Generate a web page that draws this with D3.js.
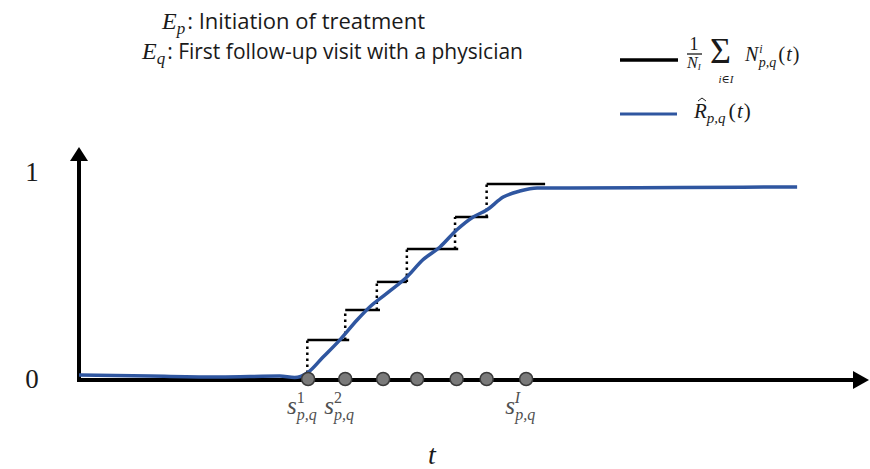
<html>
<head>
<title>step-estimate</title>
<script src="https://d3js.org/d3.v7.min.js"></script>
<style>
  body { margin: 0; background: #fff; }
  svg text { fill: #1a1a1a; }
  .math { font-family: "Liberation Serif", "DejaVu Serif", serif; font-style: italic; }
  .sans { font-family: "Open Sans", "Noto Sans", sans-serif; }
</style>
</head>
<body>
<script>
// event times on the t axis (s^1 ... s^I)
const eventTimes = [29.0, 33.7, 38.5, 42.8, 47.8, 51.6, 56.6];
// empirical step function: start, end and level of each step
const stepStart = [28.9, 33.7, 37.7, 41.5, 47.6, 51.6];
const stepEnd = [34.2, 38.1, 41.5, 48.0, 51.8, 59.0];
const stepLevel = [0.188, 0.333, 0.469, 0.628, 0.783, 0.942];
// smooth estimate R_hat(t)
const curveT = [0, 9.0, 17.8, 25.4, 27.3, 28.9, 30.9, 33.0, 35.2, 36.8, 39.0, 41.5, 43.5, 45.7, 47.8, 49.9, 51.6, 53.7, 55.8, 58.0, 62.2, 76.1, 90.9];
const curveR = [0.019, 0.014, 0.010, 0.014, 0.007, 0.029, 0.106, 0.188, 0.285, 0.348, 0.415, 0.493, 0.575, 0.638, 0.720, 0.783, 0.816, 0.879, 0.908, 0.923, 0.923, 0.925, 0.928];
const yTicks = [0, 1];
const sLabels = [{i: 0, sup: "1"}, {i: 1, sup: "2"}, {i: 6, sup: "I"}];

const w = 870, h = 469;
const blue = "#2f56a0";

const svg = d3.select("body").append("svg")
  .attr("width", w).attr("height", h);

const x = d3.scaleLinear().domain([0, 100]).range([79, 869]);
const y = d3.scaleLinear().domain([0, 1]).range([379, 172]);

// axes with arrows
svg.append("line")
  .attr("x1", x(0)).attr("x2", x(100) - 12)
  .attr("y1", y(0) + 1).attr("y2", y(0) + 1)
  .attr("stroke", "#000").attr("stroke-width", 4);
svg.append("path")
  .attr("d", `M${x(100)},${y(0) + 1} L${x(100) - 16},${y(0) - 8} L${x(100) - 16},${y(0) + 10} Z`)
  .attr("fill", "#000");
svg.append("line")
  .attr("x1", x(0)).attr("x2", x(0))
  .attr("y1", y(0) + 3).attr("y2", 158)
  .attr("stroke", "#000").attr("stroke-width", 4);
svg.append("path")
  .attr("d", `M${x(0)},147 L${x(0) - 9},161 L${x(0) + 9},161 Z`)
  .attr("fill", "#000");

svg.selectAll(".ytick")
  .data(yTicks).enter().append("text")
  .attr("class", "ytick")
  .attr("x", 32).attr("y", d => y(d) + 9)
  .attr("text-anchor", "middle")
  .style("font-family", "'Liberation Serif', serif")
  .style("font-size", "27px")
  .text(d => d);

// dotted risers of the step function
svg.selectAll(".riser")
  .data(stepStart).enter().append("line")
  .attr("class", "riser")
  .attr("x1", d => x(d)).attr("x2", d => x(d))
  .attr("y1", (d, i) => y(i === 0 ? 0 : stepLevel[i - 1]))
  .attr("y2", (d, i) => y(stepLevel[i]))
  .attr("stroke", "#000").attr("stroke-width", 2.5)
  .attr("stroke-dasharray", "2.5,3.5");

// horizontal steps
svg.selectAll(".step")
  .data(stepStart).enter().append("line")
  .attr("class", "step")
  .attr("x1", d => x(d)).attr("x2", (d, i) => x(stepEnd[i]))
  .attr("y1", (d, i) => y(stepLevel[i])).attr("y2", (d, i) => y(stepLevel[i]))
  .attr("stroke", "#000").attr("stroke-width", 2.5);

// smooth curve
const line = d3.line()
  .x((d, i) => x(curveT[i]))
  .y(d => y(d))
  .curve(d3.curveMonotoneX);
svg.append("path")
  .datum(curveR)
  .attr("d", line)
  .attr("fill", "none")
  .attr("stroke", blue)
  .attr("stroke-width", 3.5);

// event dots
svg.selectAll(".ev")
  .data(eventTimes).enter().append("circle")
  .attr("class", "ev")
  .attr("cx", d => x(d)).attr("cy", y(0))
  .attr("r", 6.5)
  .attr("fill", "#7a7a7a")
  .attr("stroke", "#3a3a3a").attr("stroke-width", 1.5);

// s labels
const sl = svg.selectAll(".slab")
  .data(sLabels).enter().append("text")
  .attr("class", "slab math")
  .attr("x", d => x(eventTimes[d.i]) - 21)
  .attr("y", 414)
  .style("fill", "#505050");
sl.append("tspan").style("font-size", "25px").text("s");
sl.append("tspan").attr("dy", -11).style("font-size", "16px")
  .style("font-style", d => d.sup === "I" ? "italic" : "normal").text(d => d.sup);
sl.append("tspan").attr("dx", d => d.sup === "I" ? -5 : -8).attr("dy", 17).style("font-size", "16px").text("p,q");

svg.append("text")
  .attr("class", "math")
  .attr("x", 432).attr("y", 464)
  .attr("text-anchor", "middle")
  .style("font-size", "28px")
  .text("t");

// titles
function titleLine(x0, yb, sub, txt, size) {
  const t = svg.append("text").attr("x", x0).attr("y", yb);
  t.append("tspan").attr("class", "math").style("font-size", "24px").text("E");
  t.append("tspan").attr("class", "math").attr("dy", 5).style("font-size", "17px").text(sub);
  t.append("tspan").attr("class", "sans").attr("dx", 2).attr("dy", -5).style("font-size", size + "px").text(": " + txt);
}
titleLine(162, 29, "p", "Initiation of treatment", 22);
titleLine(142, 59, "q", "First follow-up visit with a physician", 21);

// legend
svg.append("line").attr("x1", 620).attr("x2", 678).attr("y1", 60).attr("y2", 60)
  .attr("stroke", "#000").attr("stroke-width", 3.5);
svg.append("line").attr("x1", 620).attr("x2", 677).attr("y1", 114).attr("y2", 114)
  .attr("stroke", blue).attr("stroke-width", 3);

const lg = svg.append("g").style("font-family", "'Liberation Serif', serif");
lg.append("text").attr("x", 694).attr("y", 50).attr("text-anchor", "middle").style("font-size", "18px").text("1");
lg.append("line").attr("x1", 687).attr("x2", 702).attr("y1", 54).attr("y2", 54).attr("stroke", "#1a1a1a").attr("stroke-width", 1.3);
const nI = lg.append("text").attr("class", "math").attr("x", 687).attr("y", 68).style("font-size", "16px");
nI.append("tspan").text("N");
nI.append("tspan").attr("dy", 2).style("font-size", "9px").text("I");
lg.append("text").attr("x", 710).attr("y", 63).style("font-size", "36px").text("\u03a3");
lg.append("text").attr("class", "math").attr("x", 726).attr("y", 83).attr("text-anchor", "middle").style("font-size", "11px").text("i\u2208I");
const nf = lg.append("text").attr("class", "math").attr("x", 745).attr("y", 61).style("font-size", "20px");
nf.append("tspan").text("N");
nf.append("tspan").attr("dx", 1).attr("dy", -8).style("font-size", "12px").text("i");
nf.append("tspan").attr("dx", -4).attr("dy", 14).style("font-size", "14px").text("p,q");
nf.append("tspan").attr("dx", 2).attr("dy", -6).style("font-size", "21px").style("font-style", "normal").text("(");
nf.append("tspan").attr("dx", 1).text("t");
nf.append("tspan").attr("dx", 1).style("font-style", "normal").text(")");

const rh = lg.append("text").attr("class", "math").attr("x", 694).attr("y", 118).style("font-size", "21px");
rh.append("tspan").text("R");
rh.append("tspan").attr("dy", 5).style("font-size", "15px").text("p,q");
rh.append("tspan").attr("dx", 3).attr("dy", -5).style("font-size", "22px").style("font-style", "normal").text("(");
rh.append("tspan").attr("dx", 1).text("t");
rh.append("tspan").attr("dx", 1).style("font-style", "normal").text(")");
// hat over R
lg.append("path").attr("d", "M698,101 L702,98 L706,101")
  .attr("fill", "none").attr("stroke", "#1a1a1a").attr("stroke-width", 1);
</script>
</body>
</html>
